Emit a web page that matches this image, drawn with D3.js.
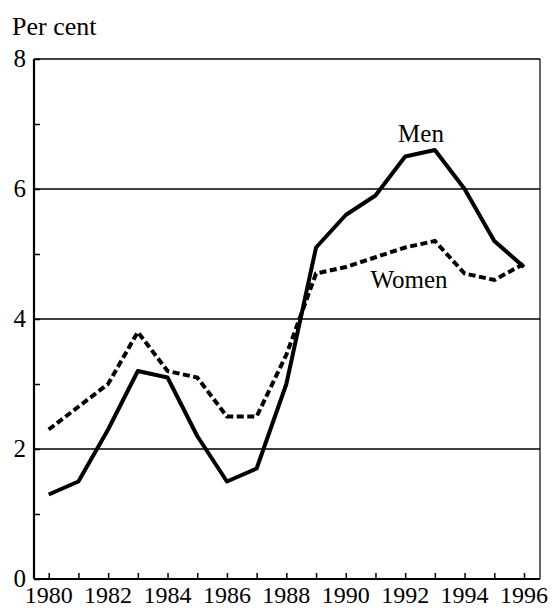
<!DOCTYPE html>
<html><head><meta charset="utf-8">
<script src="https://cdn.jsdelivr.net/npm/d3@7"></script>
<style>html,body{margin:0;padding:0;background:#fff;}svg{display:block;}</style>
</head><body>
<script>
const years = [1980,1981,1982,1983,1984,1985,1986,1987,1988,1989,1990,1991,1992,1993,1994,1995,1996];
const men   = [1.3,1.5,2.3,3.2,3.1,2.2,1.5,1.7,3.0,5.1,5.6,5.9,6.5,6.6,6.0,5.2,4.8];
const women = [2.3,2.65,3.0,3.8,3.2,3.1,2.5,2.5,3.45,4.7,4.8,4.95,5.1,5.2,4.7,4.6,4.85];
const yMajor = [0,2,4,6,8];
const yMinor = [1,3,5,7];
const xLabels = [1980,1982,1984,1986,1988,1990,1992,1994,1996];

const W = 552, H = 610;
const L = 34, R = 540, T = 59, B = 579;
const font = "'Liberation Serif','Times New Roman',serif";

const svg = d3.select("body").append("svg").attr("width", W).attr("height", H);
const x = d3.scaleLinear().domain([1980,1996]).range([48.7,524]);
const y = d3.scaleLinear().domain([0,8]).range([B,T]);

// gridlines
svg.append("g").selectAll("line").data([2,4,6]).join("line")
  .attr("x1", L).attr("x2", R).attr("y1", d=>y(d)).attr("y2", d=>y(d))
  .attr("stroke","#000").attr("stroke-width",1.6);
// frame
svg.append("line").attr("x1",L).attr("x2",R).attr("y1",T).attr("y2",T).attr("stroke","#000").attr("stroke-width",1.6);
svg.append("line").attr("x1",R).attr("x2",R).attr("y1",T).attr("y2",B).attr("stroke","#000").attr("stroke-width",1.2);

// y axis
const yAxis = d3.axisRight(y).tickValues(yMinor.concat(yMajor)).tickSize(6).tickFormat("");
const gy = svg.append("g").attr("transform",`translate(${L},0)`).call(yAxis);
gy.select(".domain").attr("stroke-width",2.2).attr("d",`M0,${T}V${B}`);
gy.selectAll(".tick line").attr("stroke-width",1.5);
svg.append("g").selectAll("text").data(yMajor).join("text")
  .attr("x", 26).attr("y", d=>y(d)+8).attr("text-anchor","end")
  .style("font-family",font).style("font-size","25px").text(d=>d);

// x axis
const xAxis = d3.axisTop(x).tickValues(years).tickSize(6).tickFormat("");
const gx = svg.append("g").attr("transform",`translate(0,${B})`).call(xAxis);
gx.select(".domain").attr("stroke-width",2.2).attr("d",`M${L},0H${R}`);
gx.selectAll(".tick line").attr("stroke-width",1.5);
svg.append("g").selectAll("text").data(xLabels).join("text")
  .attr("x", d=>x(d)).attr("y", 603).attr("text-anchor","middle")
  .style("font-family",font).style("font-size","24px").text(d=>d);

svg.append("text").attr("x",12).attr("y",35)
  .style("font-family",font).style("font-size","26px").text("Per cent");

const line = d3.line().x((d,i)=>x(years[i])).y(d=>y(d));
svg.append("path").datum(women).attr("d",line).attr("fill","none")
  .attr("stroke","#000").attr("stroke-width",4).attr("stroke-dasharray","7,3.5");
svg.append("path").datum(men).attr("d",line).attr("fill","none")
  .attr("stroke","#000").attr("stroke-width",4).attr("stroke-linejoin","round");

svg.append("text").attr("x",421).attr("y",142).attr("text-anchor","middle")
  .style("font-family",font).style("font-size","25px").text("Men");
svg.append("text").attr("x",409).attr("y",288).attr("text-anchor","middle")
  .style("font-family",font).style("font-size","25px").text("Women");
</script>
</body></html>
